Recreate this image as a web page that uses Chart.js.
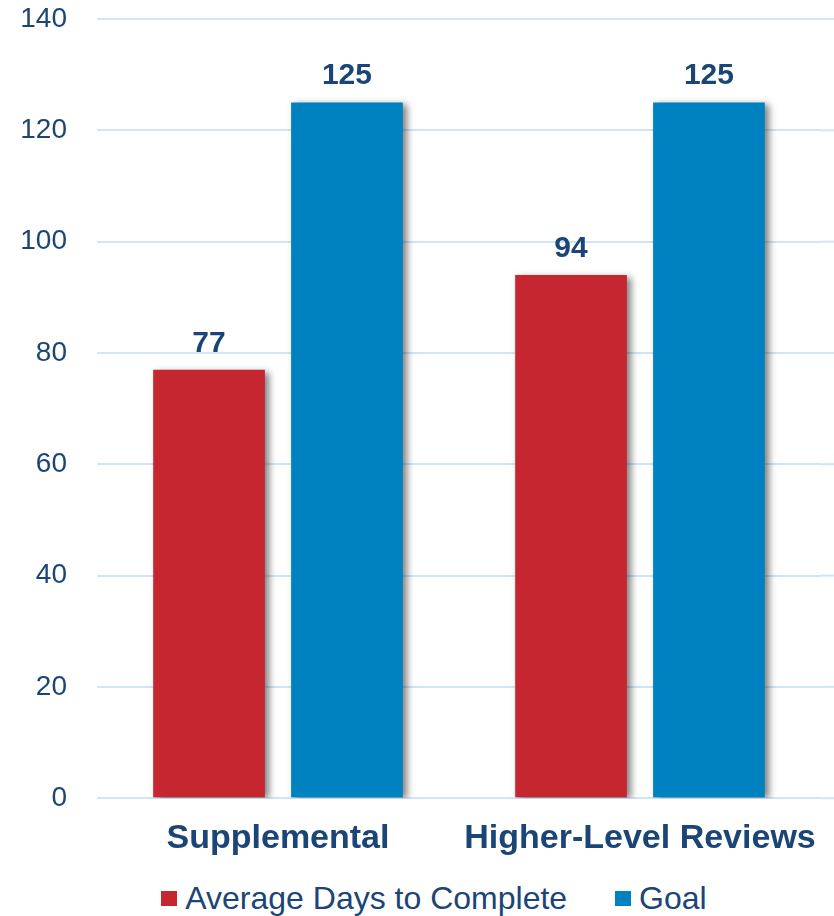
<!DOCTYPE html>
<html lang="en">
<head>
  <meta charset="UTF-8" />
  <title>Average Days to Complete vs Goal</title>
  <script src="https://cdn.jsdelivr.net/npm/chart.js"></script>
  <style>
    body { margin: 0; background: #fff; font-family: 'Liberation Sans', Arial, sans-serif; }
    #wrap { width: 834px; height: 916px; position: relative; }
    #chartBox { position: absolute; left: 0; top: 0; width: 834px; height: 870px; }
    #legend {
      position: absolute; left: 17px; top: 878px; width: 834px;
      display: flex; justify-content: center; gap: 48px;
      font-size: 32px; color: #1B4576; line-height: 40px;
    }
    #legend span.item { display: flex; align-items: center; }
    #legend i { display: inline-block; width: 16px; height: 15px; margin-right: 8px; }
  </style>
</head>
<body>
  <div id="wrap">
    <div id="chartBox"><canvas id="barChart"></canvas></div>
    <div id="legend"></div>
  </div>
  <script>
    const categories = ["Supplemental", "Higher-Level Reviews"];
    const avgDays = [77, 94];
    const goalDays = [125, 125];
    const yTicks = [0, 20, 40, 60, 80, 100, 120, 140];

    const navy = "#1B4576";
    const red = "#C5262F";
    const blue = "#0082C0";
    const gridBlue = "#CFE6F7";
    const fontFamily = "'Liberation Sans', Arial, sans-serif";

    // soft drop shadow under the bars
    const barShadow = {
      id: "barShadow",
      beforeDatasetsDraw(chart) {
        const ctx = chart.ctx;
        ctx.save();
        ctx.shadowColor = "rgba(0,0,0,0.5)";
        ctx.shadowBlur = 7;
        ctx.shadowOffsetX = 4;
        ctx.shadowOffsetY = 2;
      },
      afterDatasetsDraw(chart) {
        chart.ctx.restore();
      }
    };

    // value printed above each bar
    const valueLabels = {
      id: "valueLabels",
      afterDatasetsDraw(chart) {
        const ctx = chart.ctx;
        ctx.save();
        ctx.fillStyle = navy;
        ctx.font = "bold 30px " + fontFamily;
        ctx.textAlign = "center";
        ctx.textBaseline = "alphabetic";
        chart.data.datasets.forEach((ds, i) => {
          chart.getDatasetMeta(i).data.forEach((bar, j) => {
            ctx.fillText(ds.data[j], bar.x, bar.y - 18);
          });
        });
        ctx.restore();
      }
    };

    // run the horizontal grid out to the canvas edge
    const gridToEdge = {
      id: "gridToEdge",
      beforeDatasetsDraw(chart) {
        const ctx = chart.ctx, y = chart.scales.y, area = chart.chartArea;
        ctx.save();
        ctx.strokeStyle = gridBlue;
        ctx.lineWidth = 2;
        y.ticks.forEach(t => {
          const py = y.getPixelForValue(t.value);
          ctx.beginPath();
          ctx.moveTo(area.right, py);
          ctx.lineTo(chart.width, py);
          ctx.stroke();
        });
        ctx.restore();
      }
    };

    const chart = new Chart(document.getElementById("barChart"), {
      type: "bar",
      data: {
        labels: categories,
        datasets: [
          { label: "Average Days to Complete", data: avgDays, backgroundColor: red },
          { label: "Goal", data: goalDays, backgroundColor: blue }
        ]
      },
      options: {
        responsive: true,
        maintainAspectRatio: false,
        animation: false,
        categoryPercentage: 0.762,
        barPercentage: 0.81,
        layout: { padding: { left: 21, right: 13, top: 19, bottom: -1 } },
        plugins: {
          tooltip: { enabled: false },
          legend: { display: false }
        },
        scales: {
          x: {
            grid: { display: false },
            border: { display: false },
            ticks: {
              color: navy,
              padding: 12,
              maxRotation: 0,
              minRotation: 0,
              autoSkip: false,
              font: { size: 34, weight: "bold", family: fontFamily }
            }
          },
          y: {
            min: 0,
            max: 140,
            afterBuildTicks(scale) {
              scale.ticks = yTicks.map(v => ({ value: v }));
            },
            afterFit(scale) {
              scale.width = 76;
              scale.paddingTop = 0;
            },
            grid: { color: gridBlue, lineWidth: 2, drawTicks: false },
            border: { display: false },
            ticks: {
              color: navy,
              padding: 30,
              font: { size: 28, family: fontFamily }
            }
          }
        }
      },
      plugins: [gridToEdge, barShadow, valueLabels]
    });

    // legend row built from the datasets
    const legendEl = document.getElementById("legend");
    chart.data.datasets.forEach(ds => {
      const item = document.createElement("span");
      item.className = "item";
      const box = document.createElement("i");
      box.style.background = ds.backgroundColor;
      item.appendChild(box);
      item.appendChild(document.createTextNode(ds.label));
      legendEl.appendChild(item);
    });
  </script>
</body>
</html>
